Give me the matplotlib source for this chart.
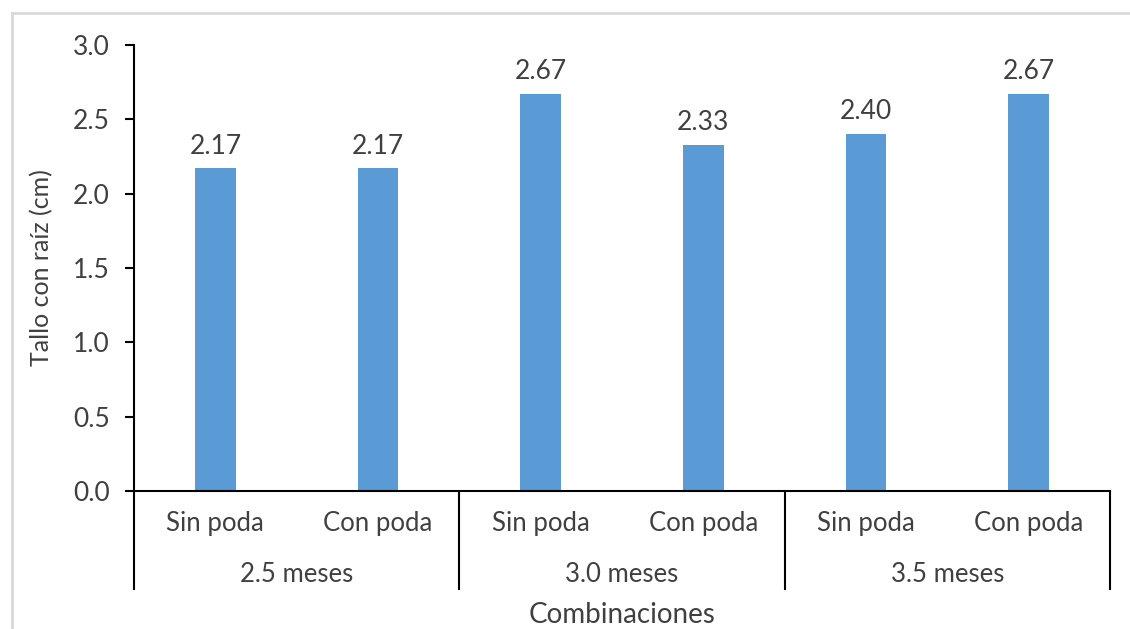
import matplotlib.pyplot as plt
from matplotlib.lines import Line2D
import matplotlib.transforms as mtransforms

# Datos
grupos = ['2.5 meses', '3.0 meses', '3.5 meses']
tratamientos = ['Sin poda', 'Con poda']
tallo_raiz = [2.17, 2.17, 2.67, 2.33, 2.40, 2.67]

color_barra = '#5B9BD5'
color_texto = '#404040'
font_size = 19

plt.rcParams['font.family'] = ['Lato', 'DejaVu Sans']

fig = plt.figure(figsize=(11.3, 6.29), dpi=100)
ax = fig.add_axes([0.1186, 0.2194, 0.8637, 0.7091])

# Barras
n = len(grupos) * len(tratamientos)
posiciones = list(range(n))
ax.bar(posiciones, tallo_raiz, width=0.25, color=color_barra, zorder=2)

# Valores encima de cada barra
for x, valor in zip(posiciones, tallo_raiz):
    ax.annotate(f'{valor:.2f}', (x, valor), xytext=(0, 7), textcoords='offset points',
                ha='center', va='bottom', fontsize=font_size, color=color_texto)

ax.set_xlim(-0.5, n - 0.5)
ax.set_ylim(0, 3.0)
ax.set_yticks([0, 0.5, 1.0, 1.5, 2.0, 2.5, 3.0])
ax.set_yticklabels([f'{v:.1f}' for v in ax.get_yticks()])
ax.tick_params(axis='y', direction='out', length=6.5, width=1.5, pad=11,
               labelsize=font_size, labelcolor=color_texto)
ax.set_xticks([])

for lado in ['top', 'right']:
    ax.spines[lado].set_visible(False)
for lado in ['left', 'bottom']:
    ax.spines[lado].set_color('black')
    ax.spines[lado].set_linewidth(1.5)

ax.set_ylabel('Tallo con raíz (cm)', fontsize=18, color=color_texto)
ax.yaxis.set_label_coords(-0.083, 0.5)

# Eje de categorías con dos niveles
trans = mtransforms.blended_transform_factory(ax.transData, ax.transAxes)
for x, nombre in zip(posiciones, tratamientos * len(grupos)):
    ax.text(x, -0.072, nombre, transform=trans, ha='center', va='center',
            fontsize=18.5, color=color_texto)

k = len(tratamientos)
for i, grupo in enumerate(grupos):
    centro = i * k + (k - 1) / 2
    ax.text(centro, -0.188, grupo, transform=trans, ha='center', va='center',
            fontsize=18.5, color=color_texto)

for i in range(len(grupos) + 1):
    xs = i * k - 0.5
    ax.plot([xs, xs], [0, -0.222], transform=trans, color='black',
            lw=1.5, clip_on=False, solid_capstyle='butt')

ax.text(0.5, -0.278, 'Combinaciones', transform=ax.transAxes, ha='center',
        va='center', fontsize=20, color=color_texto)

# Borde del gráfico
borde_x = 12 / 1130
borde_y = 1 - 13 / 629
fig.add_artist(Line2D([borde_x, borde_x], [0, borde_y], color='#d9d9d9', lw=2))
fig.add_artist(Line2D([borde_x, 1], [borde_y, borde_y], color='#d9d9d9', lw=2))

fig.savefig('out.png', dpi=100)
